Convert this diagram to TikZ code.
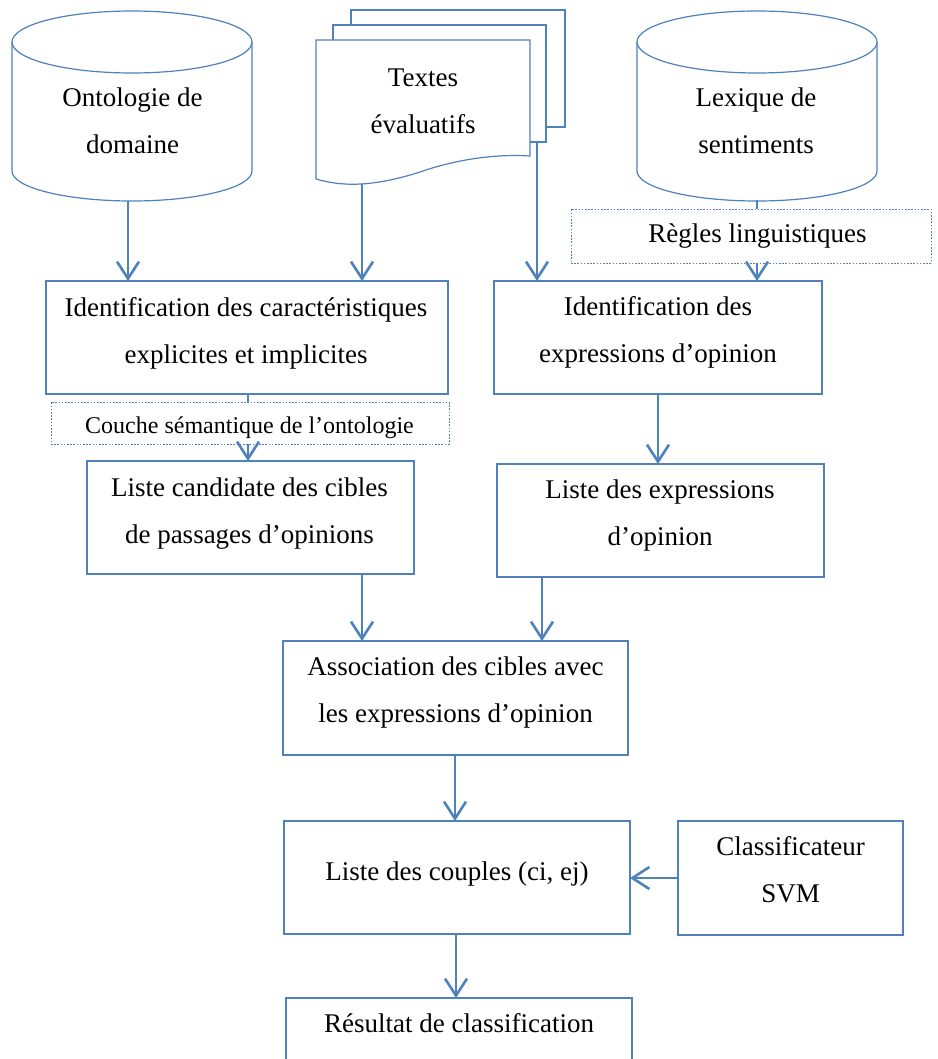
\documentclass[tikz,border=0pt]{standalone}
\usepackage{fontspec}
\setmainfont{Liberation Serif}
\usetikzlibrary{arrows.meta}
\definecolor{flow}{HTML}{4F81BD}
\begin{document}
\begin{tikzpicture}[x=1pt,y=-1pt,
  outline/.style={draw=flow, line width=1.2pt},
  box/.style={outline, rectangle, inner sep=0pt, outer sep=0pt},
  dotbox/.style={draw=flow, line width=0.9pt, dash pattern=on 1.6pt off 1.6pt,
                 rectangle, inner sep=0pt, outer sep=0pt},
  txt/.style={anchor=base, align=center, inner sep=0pt, text=black,
              font=\fontsize{27pt}{47pt}\selectfont},
  smalltxt/.style={txt, font=\fontsize{24pt}{40pt}\selectfont},
  arr/.style={draw=flow, line width=2.6pt, -{Straight Barb[length=17pt, width=22pt]}},
  link/.style={draw=flow, line width=1.2pt},
]
\clip (0,0) rectangle (937,1059);

% ---- data sources ----
% (text nodes are placed on the baseline of their last line)
% domain ontology (cylinder)
\draw[outline, fill=white] (12,42) -- (12,171)
  arc[start angle=180, end angle=360, x radius=120pt, y radius=30pt] -- (252,42);
\draw[outline, fill=white] (132,42) ellipse[x radius=120pt, y radius=31pt];
\node[txt] (ontoT) at (132.5,154) {Ontologie de\\domaine};
\coordinate (ontoBot) at (128,201);

% sentiment lexicon (cylinder)
\draw[outline, fill=white] (637,42) -- (637,171)
  arc[start angle=180, end angle=360, x radius=120pt, y radius=30pt] -- (877,42);
\draw[outline, fill=white] (757,42) ellipse[x radius=120pt, y radius=31pt];
\node[txt] (lexT) at (756,154) {Lexique de\\sentiments};
\coordinate (lexBot) at (757,200);

% evaluative texts (stack of documents)
\draw[outline, fill=white] (351,10) rectangle (565,127);
\draw[outline, fill=white] (333,25) rectangle (546,142);
\draw[outline, fill=white] (316,40) -- (530,40) -- (530,156)
  .. controls (500,154) and (460,158) .. (420,172)
  .. controls (370,188) and (340,186) .. (316,179) -- cycle;
\node[txt] (docT) at (423,134) {Textes\\évaluatifs};
\coordinate (docBot) at (362,184);
\coordinate (docMid) at (537,142);

% ---- processing boxes ----
\node[box, minimum width=402pt, minimum height=113pt] (b5) at (247,337.5) {};
\node[txt] (b5t) at (246,363) {Identification des caractéristiques\\explicites et implicites};

\node[box, minimum width=328pt, minimum height=113pt] (b8) at (658,337.5) {};
\node[txt] (b8t) at (658,362) {Identification des\\expressions d’opinion};

\node[dotbox, minimum width=360pt, minimum height=54pt] (regles) at (751,236) {};
\node[txt] (reglesT) at (757.5,243) {Règles linguistiques};

\node[dotbox, minimum width=398pt, minimum height=42pt] (couche) at (250,423) {};
\node[smalltxt] (coucheT) at (249.5,433) {Couche sémantique de l’ontologie};

\node[box, minimum width=327pt, minimum height=113pt] (b7) at (250.5,517.5) {};
\node[txt] (b7t) at (249.5,543) {Liste candidate des cibles\\de passages d’opinions};

\node[box, minimum width=327pt, minimum height=113pt] (b9) at (660.5,520.5) {};
\node[txt] (b9t) at (660,545) {Liste des expressions\\d’opinion};

\node[box, minimum width=345pt, minimum height=114pt] (b10) at (455.5,698) {};
\node[txt] (b10t) at (455.5,722) {Association des cibles avec\\les expressions d’opinion};

\node[box, minimum width=346pt, minimum height=113pt] (b11) at (457,877.5) {};
\node[txt] (b11t) at (457,880) {Liste des couples (ci, ej)};

\node[box, minimum width=225pt, minimum height=114pt] (b12) at (790.5,878) {};
\node[txt] (b12t) at (790.5,902) {Classificateur\\SVM};

\node[box, minimum width=346pt, minimum height=113pt] (b13) at (459,1054.5) {};
\node[txt] (b13t) at (459,1032) {Résultat de classification};

% ---- connector columns ----
\coordinate (colC) at (248,0);
\coordinate (colD) at (658,0);
\coordinate (colE) at (362,0);
\coordinate (colF) at (542,0);
\coordinate (colG) at (455,0);
\coordinate (colH) at (456,0);
\coordinate (rowS) at (0,878);

% ---- connectors ----
\draw[arr] (ontoBot) -- (b5.north -| ontoBot);
\draw[arr] (docBot) -- (b5.north -| docBot);
\draw[arr] (docMid) -- (b8.north -| docMid);
\draw[link] (lexBot) -- (regles.north -| lexBot);
\draw[arr] (regles.south -| lexBot) -- (b8.north -| lexBot);
\draw[link] (b5.south -| colC) -- (couche.north -| colC);
\draw[arr] (couche.south -| colC) -- (b7.north -| colC);
\draw[arr] (b8.south -| colD) -- (b9.north -| colD);
\draw[arr] (b7.south -| colE) -- (b10.north -| colE);
\draw[arr] (b9.south -| colF) -- (b10.north -| colF);
\draw[arr] (b10.south -| colG) -- (b11.north -| colG);
\draw[arr] (b12.west |- rowS) -- (b11.east |- rowS);
\draw[arr] (b11.south -| colH) -- (b13.north -| colH);
\end{tikzpicture}
\end{document}
